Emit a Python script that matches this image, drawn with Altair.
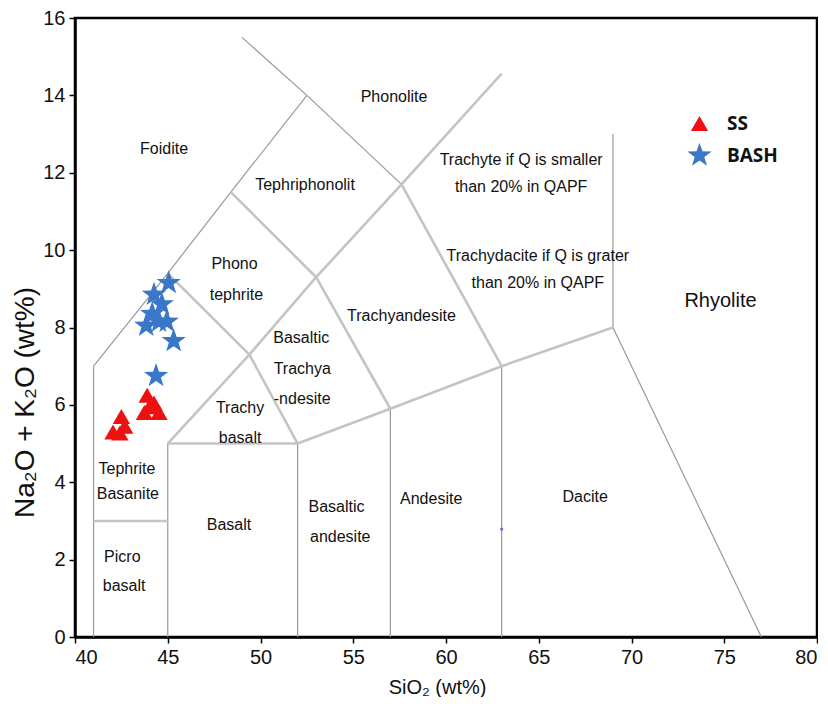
import altair as alt
import pandas as pd

# Sample data
ss_x = [42.05, 42.5, 42.68, 42.42, 43.89, 43.74, 44.26, 44.53, 44.0]
ss_y = [5.30, 5.70, 5.45, 5.27, 6.25, 5.80, 6.05, 5.80, 5.95]
bash_x = [45.05, 44.26, 44.68, 43.84, 44.53, 44.95, 45.32, 44.37, 44.16]
bash_y = [9.15, 8.85, 8.60, 8.05, 8.15, 8.15, 7.65, 6.75, 8.35]
dot_x = [63.0]
dot_y = [2.79]

# TAS boundary segments
seg_x1 = [49.0, 52.5, 48.4, 45.0, 41.0, 69.0, 69.0, 63.0, 57.0, 52.0, 45.0, 52.5,
          57.6, 48.4, 53.0, 53.0, 57.6, 45.0, 49.4, 49.4, 45.0, 45.0, 52.0, 57.0, 63.0, 41.0]
seg_y1 = [15.5, 14.0, 11.5, 9.4, 7.0, 13.0, 8.0, 7.0, 5.9, 5.0, 5.0, 14.0,
          11.7, 11.5, 9.3, 9.3, 11.7, 9.4, 7.3, 7.3, 5.0, 5.0, 5.0, 5.9, 7.0, 3.0]
seg_x2 = [52.5, 48.4, 45.0, 41.0, 41.0, 69.0, 77.0, 63.0, 57.0, 52.0, 45.0, 57.6,
          63.0, 53.0, 57.6, 57.0, 63.0, 49.4, 53.0, 52.0, 49.4, 52.0, 57.0, 63.0, 69.0, 45.0]
seg_y2 = [14.0, 11.5, 9.4, 7.0, 0.0, 8.0, 0.0, 0.0, 0.0, 0.0, 0.0, 11.7,
          14.56, 9.3, 11.7, 5.9, 7.0, 7.3, 9.3, 5.0, 7.3, 5.0, 5.9, 7.0, 8.0, 3.0]
seg_kind = ["thin"] * 12 + ["thick"] * 14

# Field names
lab_text = ["Foidite", "Phonolite", "Tephriphonolit", "Trachyte if Q is smaller", "than 20% in QAPF",
            "Trachydacite if Q is grater", "than 20% in QAPF", "Phono", "tephrite", "Trachyandesite",
            "Basaltic", "Trachya", "-ndesite", "Trachy", "basalt", "Tephrite", "Basanite",
            "Basalt", "Basaltic", "andesite", "Andesite", "Dacite", "Picro", "basalt"]
lab_x = [44.8, 57.2, 52.4, 64.05, 64.05, 64.95, 64.95, 48.6, 48.7, 57.6,
         52.2, 52.25, 52.25, 48.9, 48.9, 42.8, 42.85, 48.3, 54.1, 54.3, 59.2, 67.5, 42.55, 42.65]
lab_y = [12.61, 13.95, 11.68, 12.33, 11.63, 9.84, 9.15, 9.64, 8.84, 8.29,
         7.73, 6.93, 6.15, 5.92, 5.14, 4.34, 3.70, 2.89, 3.36, 2.58, 3.57, 3.62, 2.07, 1.32]

rhy_text = ["Rhyolite"]
rhy_x = [74.8]
rhy_y = [8.68]

STAR = ("M0,-1L0.235,-0.324L0.951,-0.309L0.380,0.124L0.588,0.809L0,0.4"
        "L-0.588,0.809L-0.380,0.124L-0.951,-0.309L-0.235,-0.324Z")

samples = pd.DataFrame({
    "x": ss_x + bash_x,
    "y": ss_y + bash_y,
    "group": ["SS"] * len(ss_x) + ["BASH"] * len(bash_x),
})
segs = pd.DataFrame({"x": seg_x1, "y": seg_y1, "x2": seg_x2, "y2": seg_y2, "kind": seg_kind})
labels = pd.DataFrame({"t": lab_text, "x": lab_x, "y": lab_y})
rhy = pd.DataFrame({"t": rhy_text, "x": rhy_x, "y": rhy_y})
dot = pd.DataFrame({"x": dot_x, "y": dot_y})

FONT = "Liberation Sans, Arial, sans-serif"

xs = alt.Scale(domain=[40, 80], nice=False, zero=False)
ys = alt.Scale(domain=[0, 16], nice=False, zero=False)
X = alt.X("x:Q", scale=xs, title="SiO₂ (wt%)",
          axis=alt.Axis(values=list(range(40, 81, 5)), grid=False, titleFontSize=20,
                        titlePadding=10, titleX=362))
Y = alt.Y("y:Q", scale=ys, title="Na₂O + K₂O (wt%)",
          axis=alt.Axis(values=list(range(0, 17, 2)), grid=False, titleFontSize=28,
                        titlePadding=3, titleY=384))

thin = alt.Chart(segs).transform_filter(alt.datum.kind == "thin").mark_rule(
    color="#999999", strokeWidth=1.2).encode(x=X, y=Y, x2="x2:Q", y2="y2:Q")
thick = alt.Chart(segs).transform_filter(alt.datum.kind == "thick").mark_rule(
    color="#c4c4c4", strokeWidth=2.6).encode(x=X, y=Y, x2="x2:Q", y2="y2:Q")

txt = alt.Chart(labels).mark_text(font=FONT, fontSize=16, color="#111111").encode(
    x=X, y=Y, text="t:N")
rtxt = alt.Chart(rhy).mark_text(font=FONT, fontSize=20, color="#111111").encode(
    x=X, y=Y, text="t:N")

pts = alt.Chart(samples).mark_point(filled=True, opacity=1, strokeWidth=0.6).encode(
    x=X, y=Y,
    shape=alt.Shape("group:N", scale=alt.Scale(domain=["SS", "BASH"], range=["triangle-up", STAR]),
                    legend=alt.Legend(title=None, orient="none", legendX=611, legendY=96,
                                      labelFont="Open Sans", labelFontWeight="bold", labelFontSize=19,
                                      labelColor="#111111", labelOffset=14, rowPadding=8)),
    color=alt.Color("group:N", scale=alt.Scale(domain=["SS", "BASH"], range=["#ee1111", "#3a77c9"])),
    size=alt.Size("group:N", scale=alt.Scale(domain=["SS", "BASH"], range=[300, 650])),
)

blue_dot = alt.Chart(dot).mark_circle(color="#6666ee", size=10, opacity=1).encode(x=X, y=Y)

chart = alt.layer(thin, thick, txt, rtxt, blue_dot, pts).properties(
    width=742, height=619, padding={"left": 3, "top": 0, "right": 0, "bottom": 0}
).configure_view(stroke="black", strokeWidth=2.5).configure_axis(
    domainColor="black", domainWidth=2.5, tickColor="black", tickWidth=1.5, tickSize=6,
    labelFont=FONT, labelFontSize=20, labelColor="#111111", labelPadding=4,
    titleFont=FONT, titleFontWeight="normal", titleColor="#111111"
)

chart.save("out.html", embed_options={"renderer": "svg", "actions": False})
